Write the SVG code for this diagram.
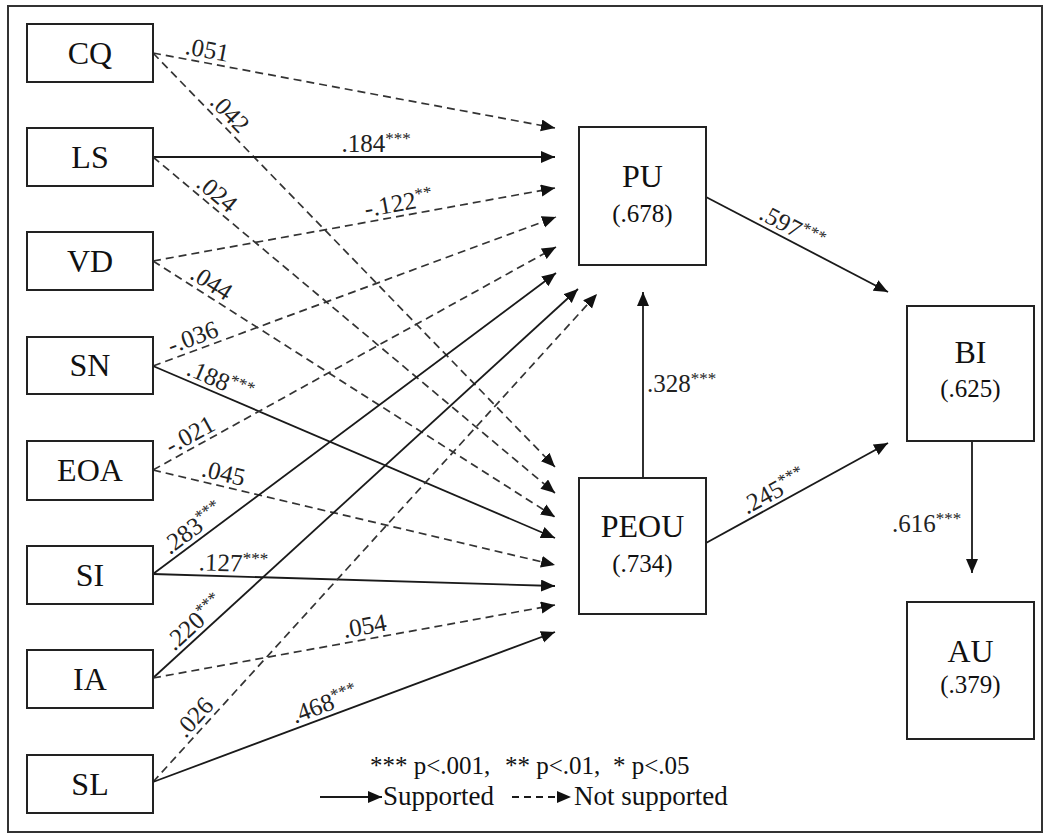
<svg xmlns="http://www.w3.org/2000/svg" width="1049" height="834" viewBox="0 0 1049 834">
<defs>
<marker id="ah" markerUnits="userSpaceOnUse" markerWidth="15" markerHeight="13" refX="14" refY="6" orient="auto">
<path d="M0,0 L14,6 L0,12 z" fill="#111"/>
</marker>
<style>
.box{fill:#fff;stroke:#222;stroke-width:2}
.nm{font-family:"Liberation Serif","Times New Roman",serif;font-size:32px;fill:#111;text-anchor:middle}
.sub{font-family:"Liberation Serif","Times New Roman",serif;font-size:25px;fill:#111;text-anchor:middle}
.s{fill:none;stroke:#1a1a1a;stroke-width:1.8;marker-end:url(#ah)}
.d{fill:none;stroke:#333;stroke-width:1.7;stroke-dasharray:8 5;marker-end:url(#ah)}
.lb{font-family:"Liberation Serif","Times New Roman",serif;font-size:25px;fill:#222;text-anchor:middle}
.st{font-size:17px}
.lg{font-family:"Liberation Serif","Times New Roman",serif;font-size:25px;fill:#111}
.lg2{font-family:"Liberation Serif","Times New Roman",serif;font-size:27px;fill:#111}
</style>
</defs>
<rect x="0" y="0" width="1049" height="834" fill="#fff"/>
<rect x="8" y="6" width="1034" height="826" fill="none" stroke="#333" stroke-width="2"/>

<g id="connectors">
<path class="d" d="M153,53 L555,128"/>
<path class="d" d="M153,53 L555,467"/>
<path class="s" d="M153,157 L555,157"/>
<path class="d" d="M153,157 L555,493"/>
<path class="d" d="M153,261 L555,188"/>
<path class="d" d="M153,261 L555,517"/>
<path class="d" d="M153,366 L556,217"/>
<path class="s" d="M153,366 L555,538"/>
<path class="d" d="M153,470 L556,247"/>
<path class="d" d="M153,470 L555,565"/>
<path class="s" d="M153,574 L556,273"/>
<path class="s" d="M153,574 L555,586"/>
<path class="s" d="M153,678 L578,289"/>
<path class="d" d="M153,678 L555,605"/>
<path class="d" d="M153,782 L597,294"/>
<path class="s" d="M153,782 L555,632"/>
<path class="s" d="M643,478 L643,292"/>
<path class="s" d="M706,197 L888,292"/>
<path class="s" d="M706,543 L888,443"/>
<path class="s" d="M972,441 L972,573"/>

<text class="lb" transform="translate(204.8,62.7) rotate(10.57)" x="0" y="-5">.051</text>
<text class="lb" transform="translate(220.4,122.3) rotate(45.84)" x="0" y="-5">.042</text>
<text class="lb" transform="translate(376,157)" x="0" y="-5">.184<tspan class="st" dy="-8">***</tspan></text>
<text class="lb" transform="translate(208.7,203.6) rotate(39.89)" x="0" y="-5">.024</text>
<text class="lb" transform="translate(400.9,216) rotate(-10.29)" x="0" y="-5">-.122<tspan class="st" dy="-8">**</tspan></text>
<text class="lb" transform="translate(204.5,293.8) rotate(32.49)" x="0" y="-5">.044</text>
<text class="lb" transform="translate(197.3,349.6) rotate(-20.34)" x="0" y="-5">-.036</text>
<text class="lb" transform="translate(215,392.6) rotate(23.16)" x="0" y="-5">.188<tspan class="st" dy="-8">***</tspan></text>
<text class="lb" transform="translate(196.2,446.3) rotate(-28.95)" x="0" y="-5">-.021</text>
<text class="lb" transform="translate(220.6,486) rotate(13.3)" x="0" y="-5">.045</text>
<text class="lb" transform="translate(200.5,538.5) rotate(-36.76)" x="0" y="-5">.283<tspan class="st" dy="-8">***</tspan></text>
<text class="lb" transform="translate(233,576.4) rotate(1.71)" x="0" y="-5">.127<tspan class="st" dy="-8">***</tspan></text>
<text class="lb" transform="translate(203.2,632.1) rotate(-42.47)" x="0" y="-5">.220<tspan class="st" dy="-8">***</tspan></text>
<text class="lb" transform="translate(367,639.1) rotate(-10.29)" x="0" y="-5">.054</text>
<text class="lb" transform="translate(203.9,726.1) rotate(-47.7)" x="0" y="-5">.026</text>
<text class="lb" transform="translate(329.1,716.3) rotate(-20.46)" x="0" y="-5">.468<tspan class="st" dy="-8">***</tspan></text>
<text class="lb" x="647" y="392" style="text-anchor:start">.328<tspan class="st" dy="-8">***</tspan></text>
<text class="lb" transform="translate(786,238.8) rotate(27.63)" x="0" y="-5">.597<tspan class="st" dy="-8">***</tspan></text>
<text class="lb" transform="translate(779.8,502.5) rotate(-28.79)" x="0" y="-5">.245<tspan class="st" dy="-8">***</tspan></text>
<text class="lb" x="892" y="532" style="text-anchor:start">.616<tspan class="st" dy="-8">***</tspan></text>
</g>

<g id="CQ"><rect class="box" x="27" y="24" width="126" height="58"/><text class="nm" x="90" y="64">CQ</text></g>
<g id="LS"><rect class="box" x="27" y="128" width="126" height="58"/><text class="nm" x="90" y="168">LS</text></g>
<g id="VD"><rect class="box" x="27" y="232" width="126" height="58"/><text class="nm" x="90" y="272">VD</text></g>
<g id="SN"><rect class="box" x="27" y="337" width="126" height="57"/><text class="nm" x="90" y="376">SN</text></g>
<g id="EOA"><rect class="box" x="27" y="441" width="126" height="59"/><text class="nm" x="90" y="481">EOA</text></g>
<g id="SI"><rect class="box" x="27" y="546" width="126" height="58"/><text class="nm" x="90" y="586">SI</text></g>
<g id="IA"><rect class="box" x="27" y="650" width="126" height="58"/><text class="nm" x="90" y="690">IA</text></g>
<g id="SL"><rect class="box" x="27" y="755" width="126" height="58"/><text class="nm" x="90" y="795">SL</text></g>

<g id="PU"><rect class="box" x="579" y="127" width="127" height="138"/><text class="nm" x="642.5" y="187">PU</text><text class="sub" x="642.5" y="222">(.678)</text></g>
<g id="PEOU"><rect class="box" x="579" y="478" width="127" height="136"/><text class="nm" x="642.5" y="537">PEOU</text><text class="sub" x="642.5" y="572">(.734)</text></g>
<g id="BI"><rect class="box" x="907" y="306" width="127" height="135"/><text class="nm" x="970.5" y="363">BI</text><text class="sub" x="970.5" y="397">(.625)</text></g>
<g id="AU"><rect class="box" x="907" y="602" width="127" height="137"/><text class="nm" x="970.5" y="662">AU</text><text class="sub" x="970.5" y="693">(.379)</text></g>

<g id="legend">
<text class="lg" x="370" y="774">*** p&lt;.001,</text>
<text class="lg" x="505" y="774">** p&lt;.01,</text>
<text class="lg" x="613" y="774">* p&lt;.05</text>
<path class="s" d="M320,797 L382,797"/>
<text class="lg2" x="383" y="805">Supported</text>
<path class="s" d="M512,797 L571,797" style="stroke-dasharray:7 5"/>
<text class="lg2" x="574" y="805">Not supported</text>
</g>
</svg>
